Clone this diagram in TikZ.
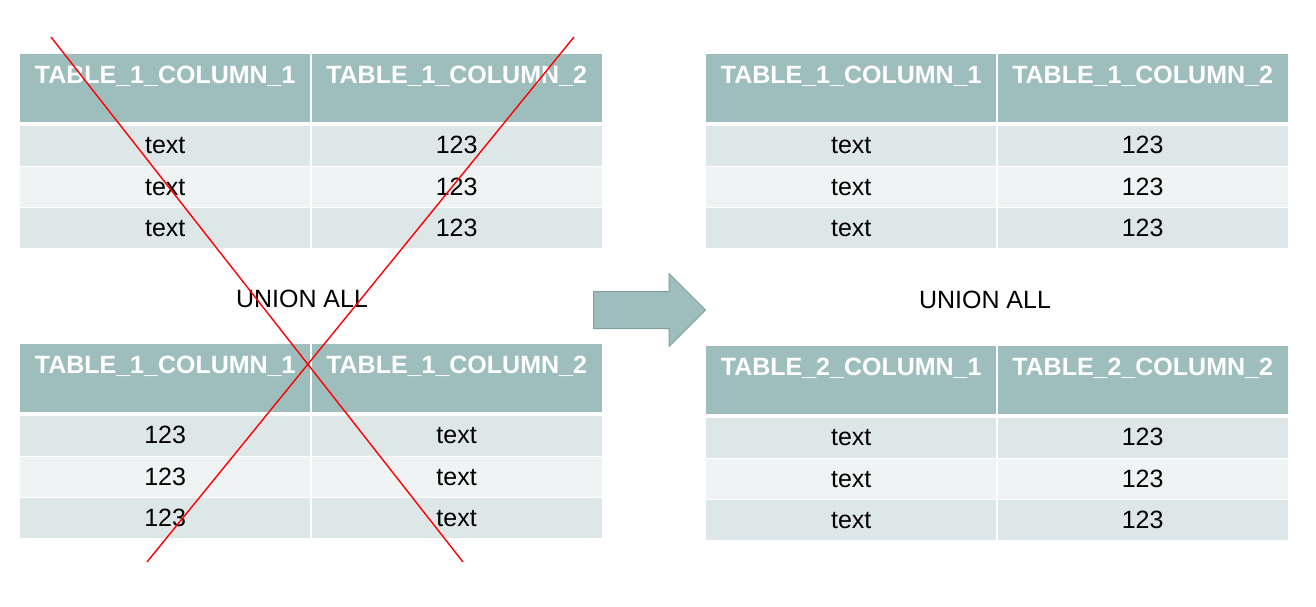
\documentclass[tikz,border=0pt]{standalone}
\usepackage{fontspec}
\setmainfont{Liberation Sans}
\usetikzlibrary{positioning,shapes,arrows}
\usepackage{xcolor}
\definecolor{headteal}{RGB}{158,190,189}
\definecolor{rowa}{RGB}{222,231,231}
\definecolor{rowb}{RGB}{239,243,243}
\definecolor{arrowedge}{RGB}{128,160,159}

\begin{document}
\begin{tikzpicture}[
  x=1pt,y=-1pt,
  node distance=1pt and 1pt,
  hdcell/.style={fill=headteal,text=white,font=\fontsize{25}{30}\selectfont\bfseries,minimum width=290pt,inner sep=0pt,text height=29pt,text depth=39pt},
  rowcell/.style={font=\fontsize{25}{30}\selectfont,minimum width=290pt,inner sep=0pt,text height=28pt,text depth=12pt},
  unionlabel/.style={font=\fontsize{25}{30}\selectfont,inner sep=0pt,anchor=base},
  flowarrow/.style={single arrow,draw=arrowedge,fill=headteal,line width=1pt,inner xsep=0pt,inner ysep=18pt,minimum height=112pt,single arrow head extend=18pt,single arrow head indent=0pt,single arrow tip angle=90,anchor=tail},
  strike/.style={draw=red,line width=1.4pt}
]
\useasboundingbox (0,0) rectangle (1316,606);
\foreach \tb/\tx/\ty/\hda/\hdb/\va/\vb in {
  L1/20/54/TABLE\_1\_COLUMN\_1/TABLE\_1\_COLUMN\_2/text/123,
  L2/20/344/TABLE\_1\_COLUMN\_1/TABLE\_1\_COLUMN\_2/123/text,
  R1/706/54/TABLE\_1\_COLUMN\_1/TABLE\_1\_COLUMN\_2/text/123,
  R2/706/346/TABLE\_2\_COLUMN\_1/TABLE\_2\_COLUMN\_2/text/123}
{
  \node[hdcell,anchor=north west] (\tb-h1) at (\tx,\ty) {\hda};
  \node[hdcell,right=of \tb-h1] (\tb-h2) {\hdb};
  \node[rowcell,fill=rowa,below=3pt of \tb-h1] (\tb-a1) {\va};
  \node[rowcell,fill=rowa,right=of \tb-a1] (\tb-b1) {\vb};
  \node[rowcell,fill=rowb,below=of \tb-a1] (\tb-a2) {\va};
  \node[rowcell,fill=rowb,right=of \tb-a2] (\tb-b2) {\vb};
  \node[rowcell,fill=rowa,below=of \tb-a2] (\tb-a3) {\va};
  \node[rowcell,fill=rowa,right=of \tb-a3] (\tb-b3) {\vb};
}
\node[unionlabel] (unionL) at (302,307) {UNION ALL};
\node[unionlabel] (unionR) at (985,308) {UNION ALL};
\node[flowarrow] (go) at (593,310) {};
% cross over the left side
\coordinate (crossA) at (51,37);
\coordinate (crossB) at (463,562);
\coordinate (crossC) at (574,37);
\coordinate (crossD) at (147,562);
\draw[strike] (crossA) -- (crossB);
\draw[strike] (crossC) -- (crossD);
\end{tikzpicture}
\end{document}
